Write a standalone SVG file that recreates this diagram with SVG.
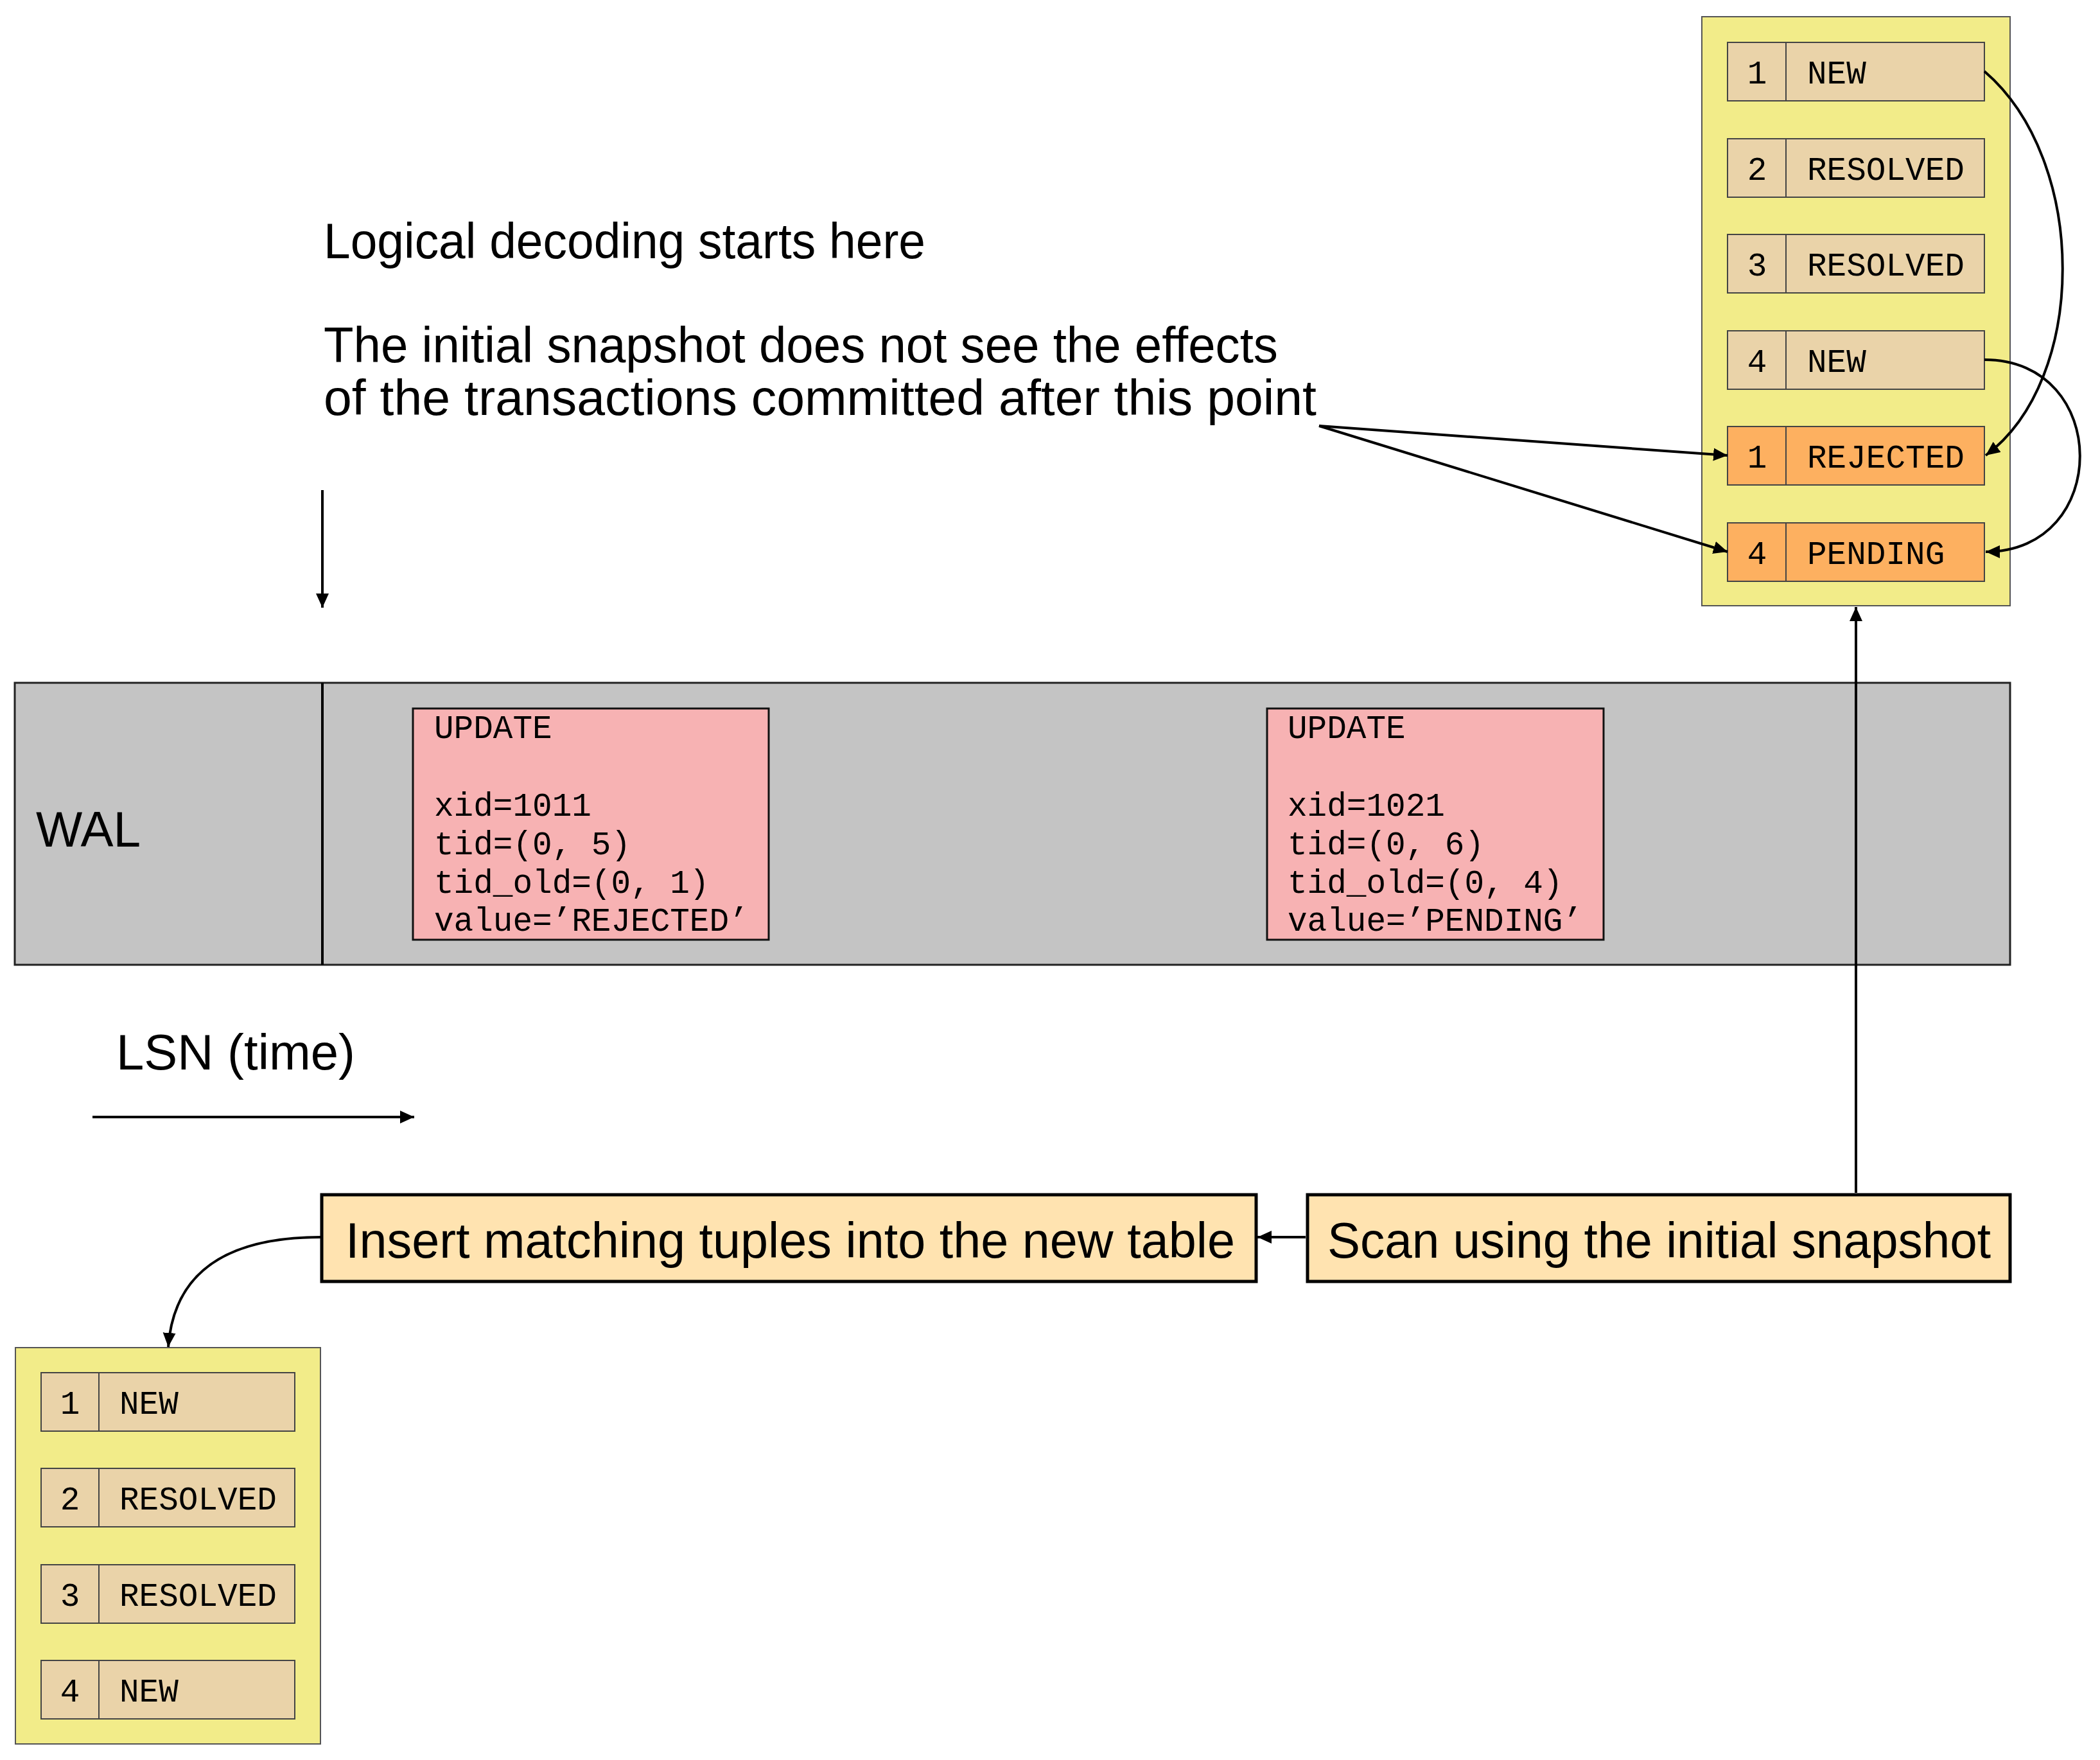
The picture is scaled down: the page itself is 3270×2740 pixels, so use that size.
<svg xmlns="http://www.w3.org/2000/svg" width="3270" height="2740" viewBox="0 0 3270 2740">
<style>
.sans{font-family:"Liberation Sans",Arial,sans-serif;font-size:77px;fill:#000}
.mono{font-family:"Liberation Mono","Courier New",monospace;font-size:51px;fill:#000}
.num{text-anchor:middle}
.table{fill:#F2EC89;stroke:#555;stroke-width:2}
.row{fill:#EAD3A9;stroke:#444;stroke-width:2}
.rowhot{fill:#FDB060;stroke:#444;stroke-width:2}
.wal{fill:#C4C4C4;stroke:#222;stroke-width:3}
.rec{fill:#F7B2B3;stroke:#111;stroke-width:3}
.step{fill:#FFE3B0;stroke:#000;stroke-width:5}
.conn{fill:none;stroke:#000;stroke-width:4}
</style>
<defs>
<marker id="ah" markerUnits="userSpaceOnUse" markerWidth="24" markerHeight="22" refX="22" refY="10" orient="auto">
<path d="M0,0 L22,10 L0,20 Z" fill="#000"/>
</marker>
</defs>
<rect width="3270" height="2740" fill="#fff"/>

<g id="label-logical">
<text class="sans" x="504" y="402" textLength="937" lengthAdjust="spacingAndGlyphs">Logical decoding starts here</text>
<text class="sans" x="504" y="564" textLength="1486" lengthAdjust="spacingAndGlyphs">The initial snapshot does not see the effects</text>
<text class="sans" x="504" y="646" textLength="1546" lengthAdjust="spacingAndGlyphs">of the transactions committed after this point</text>
</g>

<g id="old-table">
<rect class="table" x="2650" y="26" width="480" height="917"/>
<g id="old-row1"><rect class="row" x="2690" y="66" width="400" height="91"/><line x1="2781" y1="66" x2="2781" y2="157" stroke="#444" stroke-width="2"/><text class="mono num" x="2736" y="130">1</text><text class="mono" x="2814" y="130">NEW</text></g>
<g id="old-row2"><rect class="row" x="2690" y="216" width="400" height="91"/><line x1="2781" y1="216" x2="2781" y2="307" stroke="#444" stroke-width="2"/><text class="mono num" x="2736" y="280">2</text><text class="mono" x="2814" y="280">RESOLVED</text></g>
<g id="old-row3"><rect class="row" x="2690" y="365" width="400" height="91"/><line x1="2781" y1="365" x2="2781" y2="456" stroke="#444" stroke-width="2"/><text class="mono num" x="2736" y="429">3</text><text class="mono" x="2814" y="429">RESOLVED</text></g>
<g id="old-row4"><rect class="row" x="2690" y="515" width="400" height="91"/><line x1="2781" y1="515" x2="2781" y2="606" stroke="#444" stroke-width="2"/><text class="mono num" x="2736" y="579">4</text><text class="mono" x="2814" y="579">NEW</text></g>
<g id="old-row5"><rect class="rowhot" x="2690" y="664" width="400" height="91"/><line x1="2781" y1="664" x2="2781" y2="755" stroke="#444" stroke-width="2"/><text class="mono num" x="2736" y="728">1</text><text class="mono" x="2814" y="728">REJECTED</text></g>
<g id="old-row6"><rect class="rowhot" x="2690" y="814" width="400" height="91"/><line x1="2781" y1="814" x2="2781" y2="905" stroke="#444" stroke-width="2"/><text class="mono num" x="2736" y="878">4</text><text class="mono" x="2814" y="878">PENDING</text></g>
</g>

<g id="wal">
<rect class="wal" x="23" y="1063" width="3107" height="439"/>
<line x1="502" y1="1063" x2="502" y2="1502" stroke="#000" stroke-width="4"/>
<text class="sans" x="56" y="1318" textLength="163" lengthAdjust="spacingAndGlyphs">WAL</text>
</g>

<g id="record1">
<rect class="rec" x="643" y="1103" width="554" height="360"/>
<text class="mono" x="676" y="1149">UPDATE</text>
<text class="mono" x="676" y="1270">xid=1011</text>
<text class="mono" x="676" y="1330">tid=(0, 5)</text>
<text class="mono" x="676" y="1390">tid_old=(0, 1)</text>
<text class="mono" x="676" y="1449">value=’REJECTED’</text>
</g>

<g id="record2">
<rect class="rec" x="1973" y="1103" width="524" height="360"/>
<text class="mono" x="2005" y="1149">UPDATE</text>
<text class="mono" x="2005" y="1270">xid=1021</text>
<text class="mono" x="2005" y="1330">tid=(0, 6)</text>
<text class="mono" x="2005" y="1390">tid_old=(0, 4)</text>
<text class="mono" x="2005" y="1449">value=’PENDING’</text>
</g>

<g id="label-lsn">
<text class="sans" x="181" y="1665" textLength="372" lengthAdjust="spacingAndGlyphs">LSN (time)</text>
</g>

<g id="step-insert">
<rect class="step" x="501" y="1860" width="1455" height="135"/>
<text class="sans" x="538" y="1958" textLength="1385" lengthAdjust="spacingAndGlyphs">Insert matching tuples into the new table</text>
</g>

<g id="step-scan">
<rect class="step" x="2036" y="1860" width="1094" height="135"/>
<text class="sans" x="2067" y="1958" textLength="1033" lengthAdjust="spacingAndGlyphs">Scan using the initial snapshot</text>
</g>

<g id="new-table">
<rect class="table" x="24" y="2098" width="475" height="617"/>
<g id="new-row1"><rect class="row" x="64" y="2137" width="395" height="91"/><line x1="154" y1="2137" x2="154" y2="2228" stroke="#444" stroke-width="2"/><text class="mono num" x="109" y="2201">1</text><text class="mono" x="186" y="2201">NEW</text></g>
<g id="new-row2"><rect class="row" x="64" y="2286" width="395" height="91"/><line x1="154" y1="2286" x2="154" y2="2377" stroke="#444" stroke-width="2"/><text class="mono num" x="109" y="2350">2</text><text class="mono" x="186" y="2350">RESOLVED</text></g>
<g id="new-row3"><rect class="row" x="64" y="2436" width="395" height="91"/><line x1="154" y1="2436" x2="154" y2="2527" stroke="#444" stroke-width="2"/><text class="mono num" x="109" y="2500">3</text><text class="mono" x="186" y="2500">RESOLVED</text></g>
<g id="new-row4"><rect class="row" x="64" y="2585" width="395" height="91"/><line x1="154" y1="2585" x2="154" y2="2676" stroke="#444" stroke-width="2"/><text class="mono num" x="109" y="2649">4</text><text class="mono" x="186" y="2649">NEW</text></g>
</g>

<g id="connectors">
<path class="conn" d="M502,763 L502,946" stroke-width="3" marker-end="url(#ah)"/>
<path class="conn" d="M144,1739 L645,1739" marker-end="url(#ah)"/>
<path class="conn" d="M2054,663 L2690,709" marker-end="url(#ah)"/>
<path class="conn" d="M2054,663 L2690,859" marker-end="url(#ah)"/>
<path class="conn" d="M3090,111 C3252,250 3252,590 3092,709" marker-end="url(#ah)"/>
<path class="conn" d="M3090,560 C3288,560 3288,859 3092,859" marker-end="url(#ah)"/>
<path class="conn" d="M2890,1857 L2890,945" stroke-width="3" marker-end="url(#ah)"/>
<path class="conn" d="M2033,1926 L1958,1926" marker-end="url(#ah)"/>
<path class="conn" d="M500,1926 C340,1926 270,1990 262,2097" marker-end="url(#ah)"/>
</g>
</svg>
